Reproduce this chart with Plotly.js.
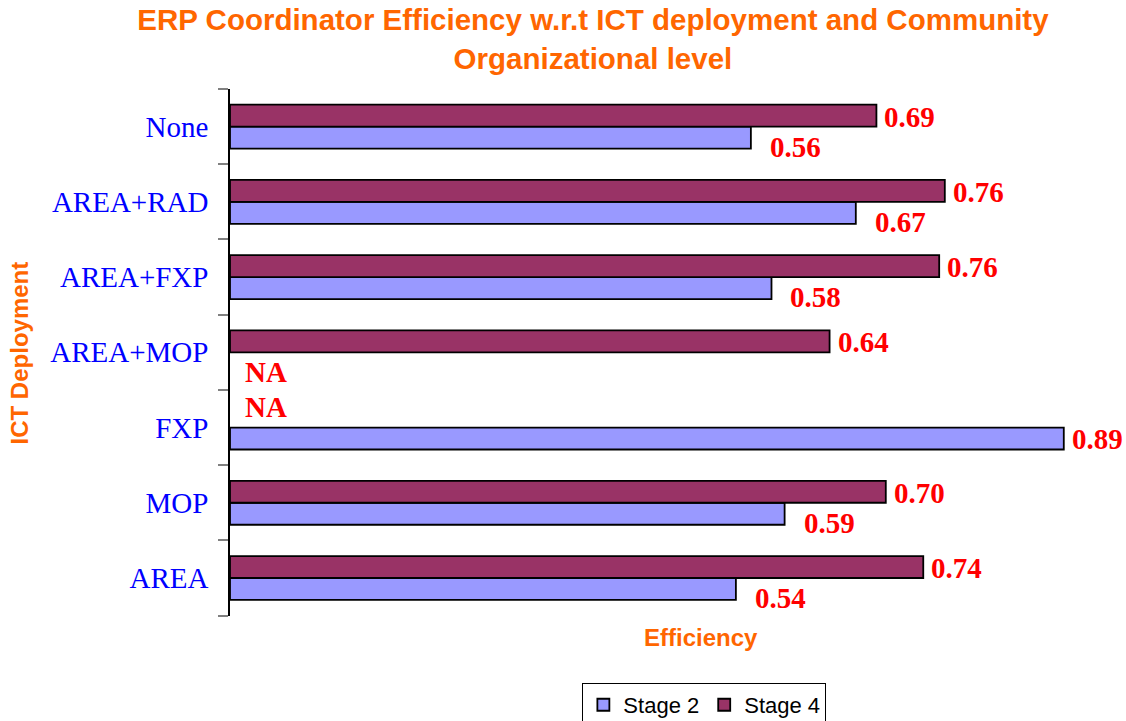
<!DOCTYPE html>
<html>
<head>
<meta charset="utf-8">
<script src="https://cdn.plot.ly/plotly-3.0.1.min.js"></script>
<style>html,body{margin:0;padding:0;background:#fff;}#chart{width:1126px;height:721px;}</style>
</head>
<body>
<div id="chart"></div>
<script>
// Categories listed top to bottom as in the chart
var categories = ['None', 'AREA+RAD', 'AREA+FXP', 'AREA+MOP', 'FXP', 'MOP', 'AREA'];
var stage2 = [0.556, 0.668, 0.578, null, 0.89, 0.592, 0.54];
var stage4 = [0.69, 0.763, 0.757, 0.64, null, 0.70, 0.74];
var seriesNames = ['Stage 2', 'Stage 4'];

var colors = {'Stage 2': '#9999FF', 'Stage 4': '#993366'};
var labelFont = {family: 'Liberation Serif, Times New Roman, serif', size: 29, color: '#FF0000', weight: 'bold'};

function barTrace(name, vals) {
  return {
    type: 'bar', orientation: 'h', name: name,
    y: categories, x: vals,
    marker: {color: colors[name], line: {color: '#000000', width: 1.8}},
    hoverinfo: 'x+y+name'
  };
}

var traces = [barTrace('Stage 2', stage2), barTrace('Stage 4', stage4)];

var annotations = [];
function addLabels(vals, other, shifts) {
  for (var i = 0; i < categories.length; i++) {
    var v = vals[i];
    var isNA = (v === null);
    var alone = (!isNA && other[i] === null);
    annotations.push({
      x: isNA ? 0 : v, y: categories[i], xref: 'x', yref: 'y',
      text: isNA ? 'NA' : v.toFixed(2),
      showarrow: false, xanchor: 'left', yanchor: 'middle',
      xshift: isNA ? shifts.naX : (alone ? shifts.aloneX : shifts.x),
      yshift: isNA ? shifts.naY : (alone ? shifts.aloneY : shifts.y),
      font: labelFont
    });
  }
}
addLabels(stage2, stage4, {x: 17, y: -20, naX: 13, naY: -20, aloneX: 6, aloneY: -11});
addLabels(stage4, stage2, {x: 6, y: 10, naX: 13, naY: 21, aloneX: 6, aloneY: 10});

// axis titles
annotations.push({
  xref: 'paper', yref: 'paper', x: 0.529, y: -0.04, yanchor: 'middle', xanchor: 'center',
  text: 'Efficiency', showarrow: false,
  font: {family: 'Liberation Sans, Arial, sans-serif', size: 24, color: '#FF6600', weight: 'bold'}
});
annotations.push({
  xref: 'paper', yref: 'paper', x: -0.236, y: 0.5, xanchor: 'center', yanchor: 'middle',
  text: 'ICT Deployment', showarrow: false, textangle: -90,
  font: {family: 'Liberation Sans, Arial, sans-serif', size: 24, color: '#FF6600', weight: 'bold'}
});

var layout = {
  width: 1126, height: 721,
  margin: {l: 230, r: 6, t: 89, b: 105, autoexpand: false},
  paper_bgcolor: '#ffffff', plot_bgcolor: '#ffffff',
  title: {
    text: 'ERP Coordinator Efficiency w.r.t ICT deployment and Community<br>Organizational level',
    x: 0.5266, xanchor: 'center', y: 0.958, yanchor: 'top', yref: 'container',
    font: {family: 'Liberation Sans, Arial, sans-serif', size: 29.5, color: '#FF6600', weight: 'bold'}
  },
  barmode: 'group', bargap: 0.416, bargroupgap: 0,
  xaxis: {
    range: [0, 0.95], showticklabels: false, showgrid: false, zeroline: false,
    showline: false, ticks: ''
  },
  yaxis: {
    type: 'category', categoryorder: 'array', categoryarray: categories.slice().reverse(),
    showline: true, linecolor: '#000000', linewidth: 1.5,
    ticks: 'outside', tickson: 'boundaries', ticklen: 10, tickcolor: '#808080', tickwidth: 1.5,
    showgrid: false, zeroline: false,
    tickfont: {family: 'Liberation Serif, Times New Roman, serif', size: 29, color: '#0000FF'},
    ticklabelstandoff: 14
  },
  showlegend: true,
  legend: {
    orientation: 'h', x: 0.533, xanchor: 'center', y: -0.127, yanchor: 'top',
    bordercolor: '#000000', borderwidth: 1, bgcolor: '#ffffff',
    font: {family: 'Liberation Sans, Arial, sans-serif', size: 22, color: '#000000'},
    traceorder: 'normal'
  },
  annotations: annotations
};

Plotly.newPlot('chart', traces, layout, {displayModeBar: false, staticPlot: false});
</script>
</body>
</html>
